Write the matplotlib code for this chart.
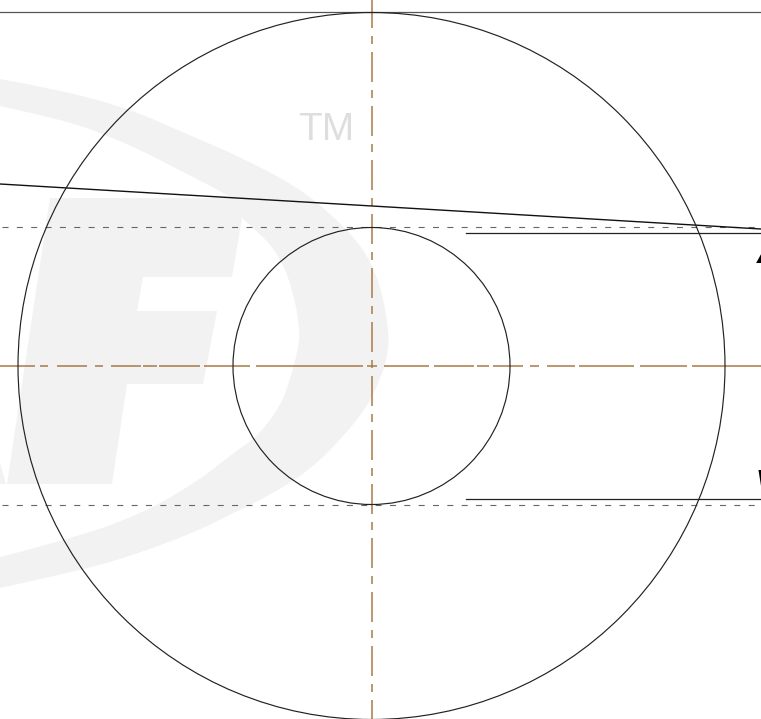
import matplotlib
matplotlib.use("Agg")
import matplotlib.pyplot as plt
from matplotlib.patches import Circle, PathPatch, Polygon
from matplotlib.path import Path

W, H = 761, 719
PX = 0.72  # one pixel in points at dpi 100

center = (371.5, 366)
outer_radius = 353.5
inner_radius = 138.5

top_line_y = 12
slant_x = [0, 761]
slant_y = [184, 229]
dashed_y = [227, 505]
leader_y = [233, 499]
leader_x = [466, 761]
axis_x = 371.5
axis_y = 366

# orange horizontal axis
axis_pieces = [(0, 35), (40, 48), (57, 87), (95, 103), (111, 141), (143, 157),
               (159, 200), (204, 250), (256, 363), (367, 377), (384, 429),
               (434, 474), (477, 489), (493, 523), (530, 539), (547, 575),
               (579, 634), (640, 687), (692, 761)]

# watermark outlines
swoosh_outer = [(0, 79), (60, 90), (127, 108), (187, 134), (247, 160), (297, 187),
                (330, 213), (363, 247), (380, 283), (389, 330), (388, 355), (380, 380),
                (367, 407), (343, 437), (310, 470), (267, 497), (233, 513), (200, 530),
                (140, 553), (83, 570), (0, 588)]
swoosh_inner = [(0, 557), (67, 540), (140, 515), (200, 480), (233, 453), (257, 437),
                (280, 407), (290, 380), (298, 350), (300, 330), (293, 290), (280, 257),
                (260, 233), (242, 218)]
swoosh_top = [(233, 198), (167, 163), (110, 136), (60, 119), (0, 106)]
letter_f = [(50, 198), (233, 198), (242, 218), (232, 277), (143, 277), (137, 311),
            (217, 311), (203, 384), (127, 384), (112, 484), (7, 484)]
letter_a_tip = [(0, 463), (6, 484), (0, 484)]

orange = "#aa7a48"
watermark = "#f2f2f2"


def smooth(points, verts, codes):
    # quadratic pieces through the midpoints, so the outline has no facets
    verts.append(points[0])
    codes.append(Path.MOVETO if not codes else Path.LINETO)
    for i in range(1, len(points) - 1):
        p, q = points[i], points[i + 1]
        end = q if i == len(points) - 2 else ((p[0] + q[0]) / 2, (p[1] + q[1]) / 2)
        verts += [p, end]
        codes += [Path.CURVE3, Path.CURVE3]


plt.rcParams["lines.scale_dashes"] = False

fig = plt.figure(figsize=(W / 100, H / 100), dpi=100)
ax = fig.add_axes([0, 0, 1, 1])
ax.set_xlim(0, W)
ax.set_ylim(H, 0)
ax.axis("off")

verts, codes = [], []
for part in [swoosh_outer, swoosh_inner, swoosh_top]:
    smooth(part, verts, codes)
verts.append(swoosh_outer[0])
codes.append(Path.CLOSEPOLY)
ax.add_patch(PathPatch(Path(verts, codes), fc=watermark, ec="none", zorder=1))
for outline in [letter_f, letter_a_tip]:
    ax.add_patch(Polygon(outline, closed=True, fc=watermark, ec="none", zorder=1))
ax.text(298, 140, "TM", family="Liberation Sans", fontsize=28, color="#dedede", zorder=2)

for start, end in axis_pieces:
    ax.plot([start, end], [axis_y, axis_y], color=orange, lw=1.1,
            solid_capstyle="butt", zorder=3)
ax.plot([axis_x, axis_x], [0, H], color=orange, lw=1.1, zorder=3,
        linestyle=(2 * PX, (30 * PX, 8 * PX, 8 * PX, 8 * PX)), dash_capstyle="butt")

for y in dashed_y:
    ax.plot([0, W], [y, y], color="#666666", lw=0.8, zorder=4,
            linestyle=(12.35 * PX, (6 * PX, 8.35 * PX)), dash_capstyle="butt")

ax.plot([0, W], [top_line_y, top_line_y], color="#555555", lw=0.9, zorder=4)
ax.plot(slant_x, slant_y, color="#111111", lw=1.0, zorder=5)
for y in leader_y:
    ax.plot(leader_x, [y, y], color="#222222", lw=0.9, zorder=5)

for r in [outer_radius, inner_radius]:
    ax.add_patch(Circle(center, r, fc="none", ec="#222222", lw=0.85, zorder=6))

ax.text(757, 263, "A", family="Liberation Sans", weight="bold", style="italic",
        fontsize=30, color="black", zorder=7)
ax.text(755, 499, "V", family="Liberation Sans", weight="bold", style="italic",
        fontsize=30, color="black", zorder=7)

fig.savefig("out.png", dpi=100)
